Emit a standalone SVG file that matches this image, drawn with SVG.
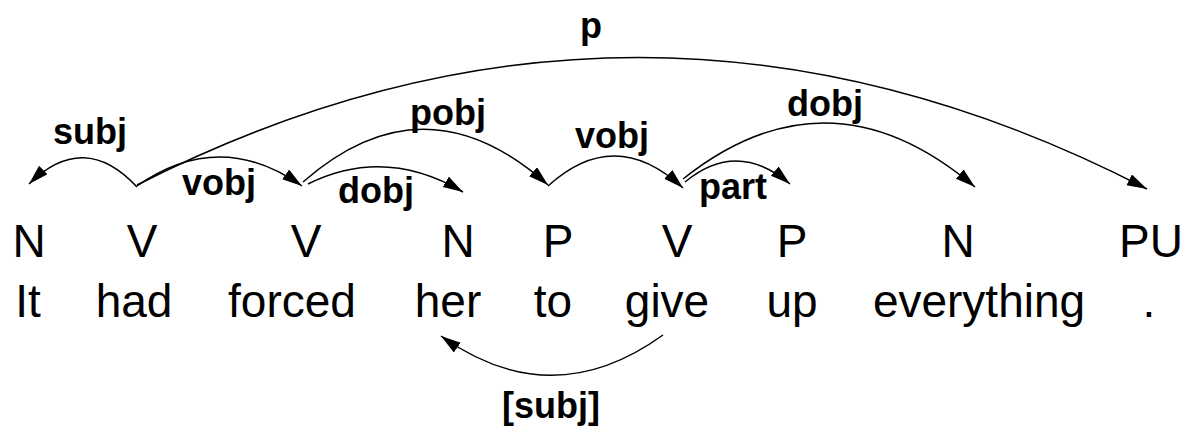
<svg xmlns="http://www.w3.org/2000/svg" width="1189" height="428" viewBox="0 0 1189 428">
  <defs>
    <style>
      .tag, .word { font-family: "Liberation Sans", Arial, Helvetica, sans-serif; font-size: 46px; fill: #000; text-anchor: middle; }
      .lbl { font-family: "Liberation Sans", Arial, Helvetica, sans-serif; font-size: 36px; font-weight: bold; fill: #000; text-anchor: middle; }
      .arc { fill: none; stroke: #000; stroke-width: 1.5; marker-end: url(#head); }
    </style>
    <marker id="head" markerUnits="userSpaceOnUse" markerWidth="21" markerHeight="13" refX="20" refY="6" orient="auto" viewBox="0 0 21 13">
      <path d="M0,0 L20,6 L0,12 z" fill="#000"/>
    </marker>
  </defs>
  <rect width="1189" height="428" fill="#fff"/>

  <!-- tokens: part-of-speech tag above the word -->
  <g id="tok-it"><text class="tag" x="29" y="257">N</text><text class="word" x="28" y="317">It</text></g>
  <g id="tok-had"><text class="tag" x="142" y="257">V</text><text class="word" x="134" y="317">had</text></g>
  <g id="tok-forced"><text class="tag" x="306" y="257">V</text><text class="word" x="292" y="317">forced</text></g>
  <g id="tok-her"><text class="tag" x="458" y="257">N</text><text class="word" x="448" y="317">her</text></g>
  <g id="tok-to"><text class="tag" x="558" y="257">P</text><text class="word" x="553" y="317">to</text></g>
  <g id="tok-give"><text class="tag" x="677" y="257">V</text><text class="word" x="667" y="317">give</text></g>
  <g id="tok-up"><text class="tag" x="792" y="257">P</text><text class="word" x="792" y="317">up</text></g>
  <g id="tok-everything"><text class="tag" x="958" y="257">N</text><text class="word" x="979" y="317">everything</text></g>
  <g id="tok-period"><text class="tag" x="1151" y="257">PU</text><text class="word" x="1149" y="317">.</text></g>

  <!-- dependency arcs with their relation labels -->
  <g id="connectors">
    <g id="e-p"><path class="arc" d="M137,185 Q642,-72 1147,189"/><text class="lbl" x="591" y="38">p</text></g>
    <g id="e-subj"><path class="arc" d="M137,187 Q84,130 29,184"/><text class="lbl" x="90" y="144">subj</text></g>
    <g id="e-vobj1"><path class="arc" d="M137,186 Q220,128 302,186"/><text class="lbl" x="219" y="195">vobj</text></g>
    <g id="e-pobj"><path class="arc" d="M303,182 Q425,75 548,185"/><text class="lbl" x="448" y="125">pobj</text></g>
    <g id="e-dobj1"><path class="arc" d="M308,184 Q385,146 463,192"/><text class="lbl" x="376" y="203">dobj</text></g>
    <g id="e-vobj2"><path class="arc" d="M548,186 Q615,125 683,188"/><text class="lbl" x="612" y="148">vobj</text></g>
    <g id="e-dobj2"><path class="arc" d="M683,179 Q829,63 975,187"/><text class="lbl" x="825" y="116">dobj</text></g>
    <g id="e-part"><path class="arc" d="M685,182 Q737,139 790,184"/><text class="lbl" x="733" y="199">part</text></g>
    <g id="e-subj2"><path class="arc" d="M663,335 Q552,415 441,336"/><text class="lbl" x="551" y="418">[subj]</text></g>
  </g>
</svg>
